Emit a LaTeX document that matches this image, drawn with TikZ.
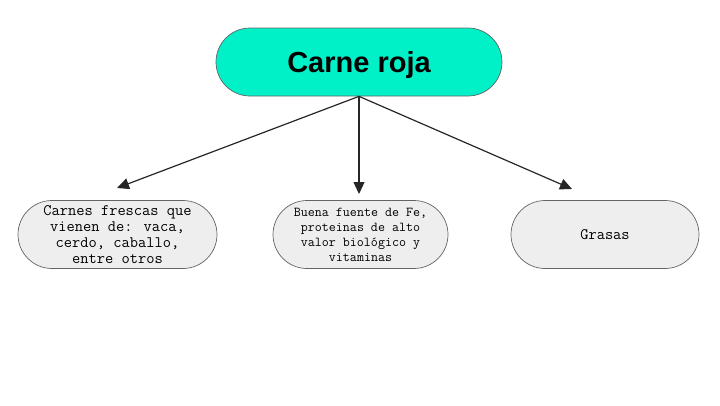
\documentclass[tikz,border=0pt]{standalone}
\usepackage{fontspec}
\setmainfont{Liberation Sans}
\usetikzlibrary{arrows.meta}
\definecolor{topfill}{RGB}{0,240,200}
\definecolor{boxfill}{RGB}{238,238,238}
\definecolor{edgegray}{RGB}{100,100,100}
\begin{document}
\begin{tikzpicture}[x=1pt,y=-1pt,
  topbox/.style={draw=edgegray,line width=0.7pt,fill=topfill,rounded corners=34pt,
    minimum width=286pt,minimum height=68pt,inner sep=0pt,text depth=0pt,
    font=\fontsize{29}{34}\selectfont\bfseries},
  leafbox/.style={draw=edgegray,line width=0.7pt,fill=boxfill,rounded corners=34pt,
    minimum height=68pt,inner sep=0pt,align=center},
  conn/.style={line width=1.2pt,draw=black!85,-{Triangle[length=12pt,width=11pt]}}]
\useasboundingbox (0,0) rectangle (720,405);
\node[topbox] (top) at (359,62) {Carne roja};
\node[leafbox,minimum width=199pt,font=\ttfamily\fontsize{16}{16}\selectfont] (left) at (117.5,234.5)
  {Carnes frescas que\\vienen de: vaca,\\cerdo, caballo,\\entre otros};
\node[leafbox,minimum width=175pt,font=\ttfamily\fontsize{13.6}{15}\selectfont] (mid) at (360.5,234.5)
  {Buena fuente de Fe,\\proteinas de alto\\valor biológico y\\vitaminas};
\node[leafbox,minimum width=188pt,font=\ttfamily\fontsize{16}{16}\selectfont] (right) at (605,234.5)
  {Grasas};
\coordinate (lend) at (117,188);
\coordinate (mend) at (359,194);
\coordinate (rend) at (572,189);
\draw[conn] (top.south) -- (lend);
\draw[conn] (top.south) -- (mend);
\draw[conn] (top.south) -- (rend);
\end{tikzpicture}
\end{document}
